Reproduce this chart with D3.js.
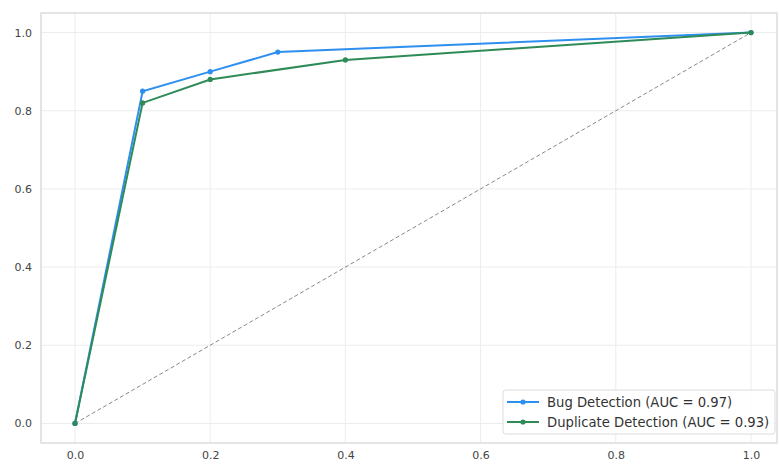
<!DOCTYPE html>
<html lang="en">
  <head>
    <meta charset="utf-8">
    <title>ROC curves</title>
    <script src="https://d3js.org/d3.v7.min.js"></script>
    <style>
      body { margin: 0; background: #fff; }
      .tick text { font-family: "DejaVu Sans", sans-serif; font-size: 11px; fill: #444; }
      .legendText { font-family: "DejaVu Sans", sans-serif; font-size: 13.2px; fill: #333; }
    </style>
  </head>
  <body>
    <div id="chart"></div>
    <script>

      // false positive rate / true positive rate
      var bugFpr = [0, 0.1, 0.2, 0.3, 1.0];
      var bugTpr = [0, 0.85, 0.90, 0.95, 1.0];
      var dupFpr = [0, 0.1, 0.2, 0.4, 1.0];
      var dupTpr = [0, 0.82, 0.88, 0.93, 1.0];
      var seriesNames = ["Bug Detection (AUC = 0.97)", "Duplicate Detection (AUC = 0.93)"];
      var tickValues = [0, 0.2, 0.4, 0.6, 0.8, 1.0];

      var width = 779;
      var height = 465;
      var frame = {left: 41, right: 777, top: 13, bottom: 443};
      var colors = ["#2f8ff0", "#2e8b57"];

      var svg = d3.select("#chart")
        .append("svg")
        .attr("width", width)
        .attr("height", height);

      var xScale = d3.scaleLinear()
        .domain([0, 1])
        .range([75, 751]);

      var yScale = d3.scaleLinear()
        .domain([-0.05, 1.05])
        .range([frame.bottom, frame.top]);

      // grid
      svg.append("g")
        .selectAll("line.gx")
        .data(tickValues)
        .enter().append("line")
          .attr("x1", d => xScale(d)).attr("x2", d => xScale(d))
          .attr("y1", frame.top).attr("y2", frame.bottom)
          .attr("stroke", "#ececec").attr("stroke-width", 1);

      svg.append("g")
        .selectAll("line.gy")
        .data(tickValues)
        .enter().append("line")
          .attr("x1", frame.left).attr("x2", frame.right)
          .attr("y1", d => yScale(d)).attr("y2", d => yScale(d))
          .attr("stroke", "#ececec").attr("stroke-width", 1);

      // frame
      svg.append("rect")
        .attr("x", frame.left)
        .attr("y", frame.top)
        .attr("width", frame.right - frame.left)
        .attr("height", frame.bottom - frame.top)
        .attr("fill", "none")
        .attr("stroke", "#dcdcdc")
        .attr("stroke-width", 1.5);

      var xAxis = svg.append("g")
        .attr("transform", `translate(0,${frame.bottom})`)
        .call(d3.axisBottom(xScale).tickValues(tickValues).tickFormat(d3.format(".1f")).tickSize(0).tickPadding(8));
      xAxis.select(".domain").remove();

      var yAxis = svg.append("g")
        .attr("transform", `translate(${frame.left},0)`)
        .call(d3.axisLeft(yScale).tickValues(tickValues).tickFormat(d3.format(".1f")).tickSize(0).tickPadding(9));
      yAxis.select(".domain").remove();

      // diagonal reference
      svg.append("line")
        .attr("x1", xScale(0)).attr("y1", yScale(0))
        .attr("x2", xScale(1)).attr("y2", yScale(1))
        .attr("stroke", "#888")
        .attr("stroke-width", 1)
        .attr("stroke-dasharray", "4,2.5");

      var series = [
        {name: seriesNames[0], pts: bugFpr.map((x, i) => [x, bugTpr[i]]), color: colors[0]},
        {name: seriesNames[1], pts: dupFpr.map((x, i) => [x, dupTpr[i]]), color: colors[1]}
      ];

      var line = d3.line()
        .x(d => xScale(d[0]))
        .y(d => yScale(d[1]));

      series.forEach(function(s){
        svg.append("path")
          .datum(s.pts)
          .attr("d", line)
          .attr("fill", "none")
          .attr("stroke", s.color)
          .attr("stroke-width", 2);

        svg.append("g")
          .selectAll("circle")
          .data(s.pts)
          .enter().append("circle")
            .attr("cx", d => xScale(d[0]))
            .attr("cy", d => yScale(d[1]))
            .attr("r", 2.6)
            .attr("fill", s.color);
      });

      // legend
      var legend = svg.append("g")
        .attr("transform", "translate(503,390)");

      legend.append("rect")
        .attr("width", 272)
        .attr("height", 44)
        .attr("rx", 3)
        .attr("fill", "#fff")
        .attr("fill-opacity", 0.85)
        .attr("stroke", "#dcdcdc");

      series.forEach(function(s, i){
        var row = legend.append("g")
          .attr("transform", `translate(4,${12 + i * 20})`);
        row.append("line")
          .attr("x1", 0).attr("x2", 32)
          .attr("stroke", s.color).attr("stroke-width", 2);
        row.append("circle")
          .attr("cx", 16).attr("r", 2.6).attr("fill", s.color);
        row.append("text")
          .attr("class", "legendText")
          .attr("x", 40)
          .attr("dy", "0.35em")
          .text(s.name);
      });

    </script>
  </body>
</html>
